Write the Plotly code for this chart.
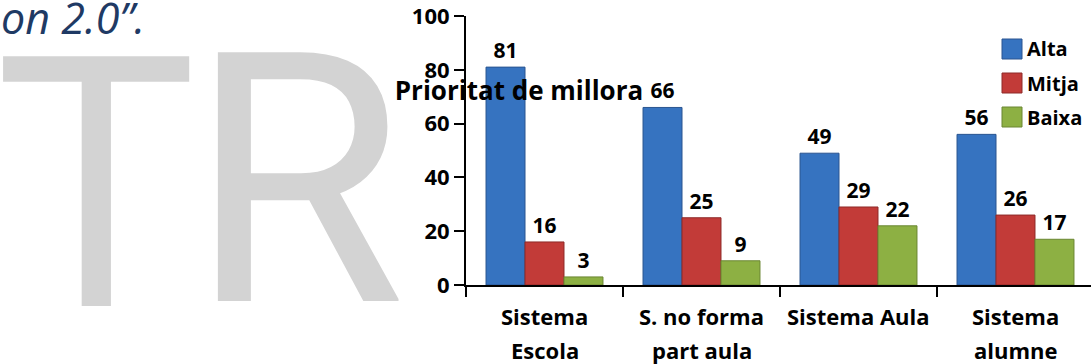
import plotly.graph_objects as go

# Categories (two text lines each) and priority shares per level
categories = ["Sistema Escola", "S. no forma part aula", "Sistema Aula", "Sistema alumne"]
label_line1 = ["Sistema", "S. no forma", "Sistema Aula", "Sistema"]
label_line2 = ["Escola", "part aula", "", "alumne"]
alta = [81, 66, 49, 56]
mitja = [16, 25, 29, 26]
baixa = [3, 9, 22, 17]
series_names = ["Alta", "Mitja", "Baixa"]
y_ticks = [0, 20, 40, 60, 80, 100]

W, H = 1091, 364
ML, MR, MT, MB = 466, 0, 16, 79
FONT = "Open Sans"

colors = ["#3673c0", "#c23b38", "#8db043"]
edges = ["#2a5590", "#8e2a28", "#6a8632"]

fig = go.Figure()
for name, vals, c, e in zip(series_names, [alta, mitja, baixa], colors, edges):
    fig.add_trace(go.Bar(
        name=name, x=categories, y=vals,
        marker=dict(color=c, line=dict(color=e, width=1)),
        text=vals, textposition="outside", cliponaxis=False,
        textfont=dict(family=FONT, size=21, color="black", weight="bold"),
    ))

pw = W - ML - MR
cat_px = 157.0
x_hi = -0.5 + pw / cat_px


def px_x(px):
    return (px - ML) / pw


def px_y(py):
    return (H - MB - py) / (H - MT - MB)


annotations = []
shapes = []
# Category labels, one annotation per line
for cat, l1, l2 in zip(categories, label_line1, label_line2):
    annotations.append(dict(x=cat, xref="x", y=px_y(316), yref="paper", text="<b>%s</b>" % l1,
                            showarrow=False, xanchor="center", yanchor="middle",
                            font=dict(family=FONT, size=22, color="black")))
    if l2:
        annotations.append(dict(x=cat, xref="x", y=px_y(350), yref="paper", text="<b>%s</b>" % l2,
                                showarrow=False, xanchor="center", yanchor="middle",
                                font=dict(family=FONT, size=22, color="black")))

# Legend: square swatches with bold labels
for i, (name, c, e) in enumerate(zip(series_names, colors, edges)):
    cy = 49 + i * 34
    shapes.append(dict(type="rect", xref="paper", yref="paper",
                       x0=px_x(1002), x1=px_x(1022), y0=px_y(cy + 10), y1=px_y(cy - 10),
                       fillcolor=c, line=dict(color=e, width=1), layer="above"))
    annotations.append(dict(x=px_x(1025), xref="paper", y=px_y(cy), yref="paper",
                            text="<b>%s</b>" % name, showarrow=False, xanchor="left", yanchor="middle",
                            font=dict(family=FONT, size=20, color="black")))

# Large grey "TR" lettering on the left
annotations.append(dict(x=px_x(96), xref="paper", y=px_y(170), yref="paper", text="T",
                        showarrow=False, xanchor="center", yanchor="middle",
                        font=dict(family="Open Sans", size=350, color="#d3d3d3")))
annotations.append(dict(x=px_x(297), xref="paper", y=px_y(181), yref="paper", text="R",
                        showarrow=False, xanchor="center", yanchor="middle",
                        font=dict(family="Roboto", size=350, color="#d3d3d3")))
# Italic caption fragment in the top-left corner
annotations.append(dict(x=px_x(147), xref="paper", y=px_y(17), yref="paper", text="on 2.0”.",
                        showarrow=False, xanchor="right", yanchor="middle",
                        font=dict(family="Open Sans", size=43, color="#1f3a64", style="italic")))

fig.update_layout(
    width=W, height=H,
    margin=dict(l=ML, r=MR, t=MT, b=MB, pad=0),
    paper_bgcolor="white", plot_bgcolor="white",
    barmode="group", bargap=0.255, bargroupgap=0,
    title=dict(text="<b>Prioritat de millora</b>", x=519 / W, xref="container", xanchor="center",
               y=1 - 91 / H, yref="container", yanchor="middle",
               font=dict(family=FONT, size=26, color="black")),
    xaxis=dict(range=[-0.5, x_hi], showline=True, linecolor="black", linewidth=2,
               ticks="outside", tickson="boundaries", ticklen=10, tickwidth=2, tickcolor="black",
               showticklabels=False, showgrid=False, zeroline=False, fixedrange=True),
    yaxis=dict(range=[0, 100], tickvals=y_ticks, showline=True, linecolor="black", linewidth=2,
               ticks="outside", ticklen=10, tickwidth=2, tickcolor="black",
               ticklabeloverflow="allow",
               tickfont=dict(family=FONT, size=22, color="black", weight="bold"),
               showgrid=False, zeroline=False, fixedrange=True),
    annotations=annotations,
    shapes=shapes,
    showlegend=False,
)

fig.write_html("out.html")
